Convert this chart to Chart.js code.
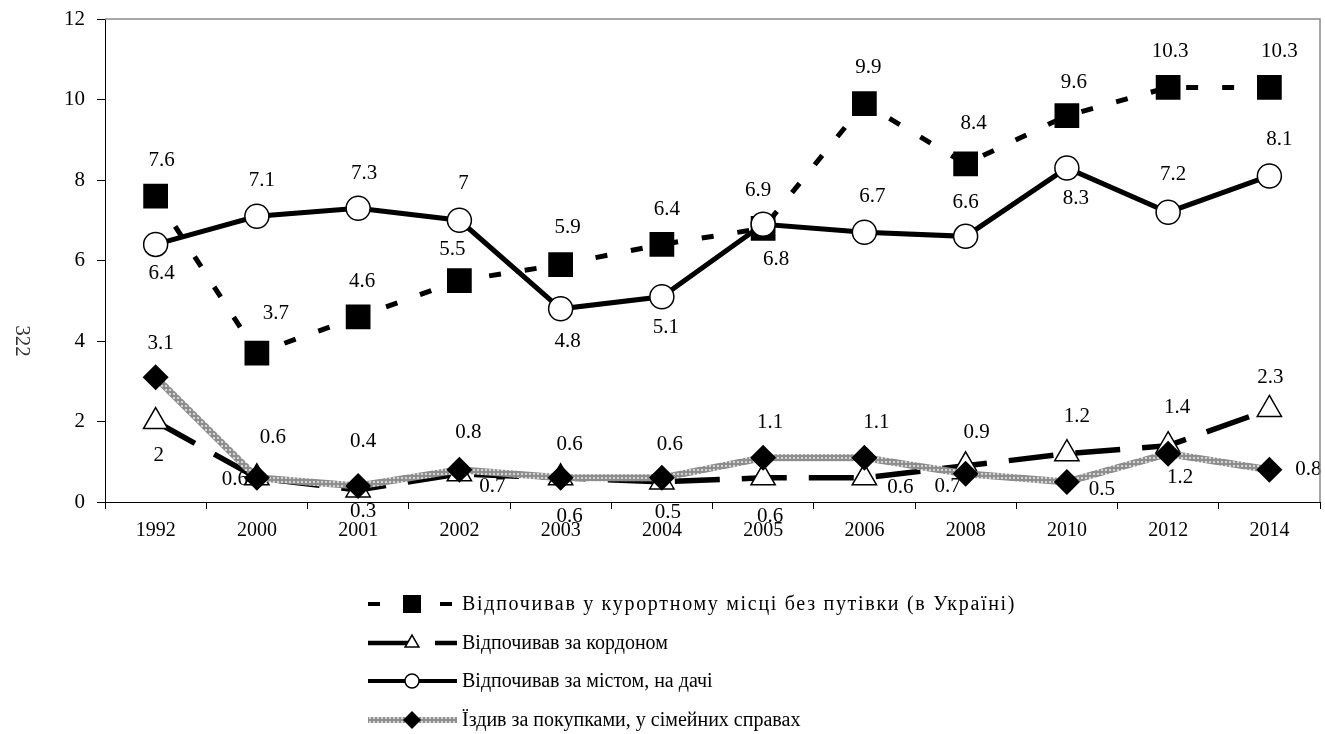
<!DOCTYPE html>
<html>
<head>
<meta charset="utf-8">
<script src="https://cdn.jsdelivr.net/npm/chart.js@4.4.0/dist/chart.umd.min.js"></script>
<style>
html, body { margin: 0; padding: 0; background: #fff; overflow: hidden; }
#chart { display: block; }
</style>
</head>
<body>
<canvas id="chart" width="1325" height="734"></canvas>
<script>
// years on the x axis
const years = ['1992', '2000', '2001', '2002', '2003', '2004', '2005', '2006', '2008', '2010', '2012', '2014'];

// series values (%)
const resortNoVoucher = [7.6, 3.7, 4.6, 5.5, 5.9, 6.4, 6.8, 9.9, 8.4, 9.6, 10.3, 10.3];
const abroad = [2, 0.6, 0.3, 0.7, 0.6, 0.5, 0.6, 0.6, 0.9, 1.2, 1.4, 2.3];
const outOfTown = [6.4, 7.1, 7.3, 7, 4.8, 5.1, 6.9, 6.7, 6.6, 8.3, 7.2, 8.1];
const shoppingFamily = [3.1, 0.6, 0.4, 0.8, 0.6, 0.6, 1.1, 1.1, 0.7, 0.5, 1.2, 0.8];

const seriesNames = [
  'Відпочивав у курортному місці без путівки (в Україні)',
  'Відпочивав за кордоном',
  'Відпочивав за містом, на дачі',
  'Їздив за покупками, у сімейних справах'
];

const yTicks = [0, 2, 4, 6, 8, 10, 12];

// where each value label sits relative to its point [dx, dy]
const labelShift = [
  [[6,-36],[19,-40],[4,-35],[-7,-31],[7,-37],[5,-35],[13,31],[4,-36],[8,-40],[7,-33],[2,-36],[10,-36]],
  [[3,34],[-22,2],[5,22],[33,13],[9,39],[6,31],[7,39],[36,10],[11,-33],[10,-37],[9,-38],[1,-32]],
  [[6,29],[5,-36],[6,-35],[4,-37],[7,33],[4,31],[-5,-34],[8,-36],[0,-34],[9,31],[5,-38],[10,-36]],
  [[5,-34],[16,-40],[5,-44],[9,-37],[9,-33],[8,-33],[7,-35],[12,-35],[-18,13],[35,8],[12,24],[39,0]]
];

const legendRows = [604, 643, 681, 720];
const legendMarker = [12.7, 8, 7, 9];
const legendSpacing = [1.7, 0, 0, 0];
const serif = 'Liberation Serif';

const canvas = document.getElementById('chart');
const ctx0 = canvas.getContext('2d');

function grayPattern() {
  const c = document.createElement('canvas');
  c.width = 4; c.height = 4;
  const g = c.getContext('2d');
  g.fillStyle = '#8e8e8e';
  g.fillRect(0, 0, 4, 4);
  g.fillStyle = '#d6d6d6';
  g.fillRect(1, 1, 2, 2);
  return ctx0.createPattern(c, 'repeat');
}

const valueLabels = {
  id: 'valueLabels',
  afterDatasetsDraw(chart) {
    const ctx = chart.ctx;
    ctx.save();
    ctx.font = '21px ' + serif;
    ctx.fillStyle = '#000';
    ctx.textAlign = 'center';
    ctx.textBaseline = 'middle';
    chart.data.datasets.forEach((ds, i) => {
      chart.getDatasetMeta(i).data.forEach((pt, j) => {
        const s = labelShift[i][j];
        ctx.fillText(String(ds.data[j]), pt.x + s[0], pt.y + s[1]);
      });
    });
    ctx.restore();
  }
};

const frameAndLegend = {
  id: 'frameAndLegend',
  afterDraw(chart) {
    const ctx = chart.ctx;
    const a = chart.chartArea;
    ctx.save();
    // grey top/right frame
    ctx.strokeStyle = '#8a8a8a';
    ctx.lineWidth = 1.5;
    ctx.beginPath();
    ctx.moveTo(a.left, a.top);
    ctx.lineTo(a.right, a.top);
    ctx.lineTo(a.right, a.bottom);
    ctx.stroke();

    // page number at the left
    ctx.save();
    ctx.translate(22, 341);
    ctx.rotate(Math.PI / 2);
    ctx.font = '21px ' + serif;
    ctx.fillStyle = '#333';
    ctx.textAlign = 'center';
    ctx.textBaseline = 'middle';
    ctx.fillText('322', 0, 0);
    ctx.restore();

    // legend
    const x0 = 368, x1 = 457, mx = 412;
    chart.data.datasets.forEach((ds, i) => {
      const y = legendRows[i];
      ctx.save();
      ctx.strokeStyle = ds.borderColor;
      ctx.lineWidth = ds.borderWidth - 1;
      ctx.setLineDash(ds.borderDash || []);
      ctx.beginPath();
      ctx.moveTo(x0, y);
      ctx.lineTo(x1, y);
      ctx.stroke();
      ctx.setLineDash([]);
      ctx.fillStyle = ds.pointBackgroundColor;
      ctx.strokeStyle = ds.pointBorderColor;
      ctx.lineWidth = ds.pointBorderWidth;
      Chart.helpers.drawPoint(ctx, {
        pointStyle: ds.pointStyle, radius: legendMarker[i], rotation: 0, borderWidth: ds.pointBorderWidth
      }, mx, y);
      ctx.fillStyle = '#000';
      ctx.font = '20px ' + serif;
      ctx.letterSpacing = legendSpacing[i] + 'px';
      ctx.textAlign = 'left';
      ctx.textBaseline = 'middle';
      ctx.fillText(seriesNames[i], 462, y + 1);
      ctx.restore();
    });
    ctx.restore();
  }
};

new Chart(canvas, {
  type: 'line',
  data: {
    labels: years,
    datasets: [{
      label: seriesNames[0],
      data: resortNoVoucher,
      borderColor: '#000',
      borderWidth: 5,
      borderDash: [12, 24],
      pointStyle: 'rect',
      pointRadius: 17.5,
      pointBackgroundColor: '#000',
      pointBorderColor: '#000',
      pointBorderWidth: 0,
      order: 4
    }, {
      label: seriesNames[1],
      data: abroad,
      borderColor: '#000',
      borderWidth: 5.5,
      borderDash: [45, 22],
      pointStyle: 'triangle',
      pointRadius: 14,
      pointBackgroundColor: '#fff',
      pointBorderColor: '#000',
      pointBorderWidth: 1.5,
      order: 3
    }, {
      label: seriesNames[2],
      data: outOfTown,
      borderColor: '#000',
      borderWidth: 5,
      pointStyle: 'circle',
      pointRadius: 12,
      pointBackgroundColor: '#fff',
      pointBorderColor: '#000',
      pointBorderWidth: 1.5,
      order: 2
    }, {
      label: seriesNames[3],
      data: shoppingFamily,
      borderColor: grayPattern(),
      borderWidth: 7,
      pointStyle: 'rectRot',
      pointRadius: 13,
      pointBackgroundColor: '#000',
      pointBorderColor: '#000',
      pointBorderWidth: 0,
      order: 1
    }]
  },
  options: {
    responsive: false,
    animation: false,
    layout: { autoPadding: false, padding: { left: 0, top: 19, right: 5, bottom: 182 } },
    elements: { line: { tension: 0 } },
    plugins: {
      legend: { display: false },
      tooltip: { enabled: false }
    },
    scales: {
      x: {
        offset: true,
        grid: { drawOnChartArea: false, offset: true, color: '#000', tickLength: 7 },
        border: { color: '#000', width: 1 },
        ticks: { color: '#000', font: { family: serif, size: 20 }, padding: 10, maxRotation: 0, autoSkip: false },
        afterFit(s) { s.height = 50; s.paddingLeft = 0; s.paddingRight = 0; }
      },
      y: {
        min: 0,
        max: 12,
        afterBuildTicks(s) { s.ticks = yTicks.map(v => ({ value: v })); },
        grid: { drawOnChartArea: false, color: '#000', tickLength: 8 },
        border: { color: '#000', width: 1 },
        ticks: { color: '#000', font: { family: serif, size: 21 }, padding: 12 },
        afterFit(s) { s.width = 105; s.paddingTop = 0; s.paddingBottom = 0; }
      }
    }
  },
  plugins: [valueLabels, frameAndLegend]
});
</script>
</body>
</html>
